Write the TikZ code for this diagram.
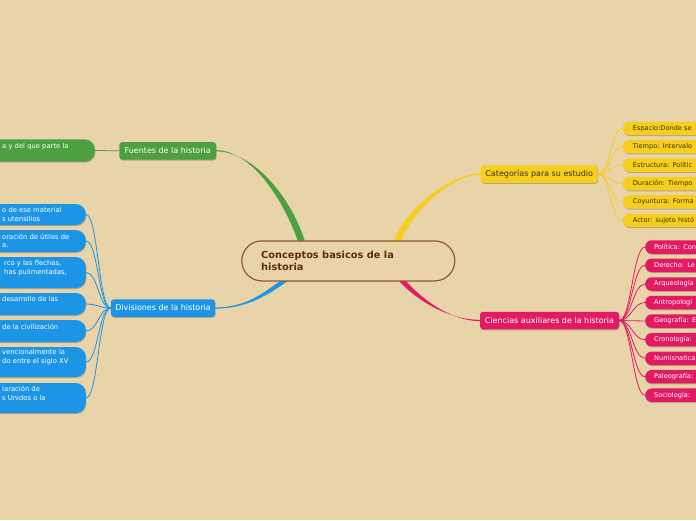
\documentclass[tikz,border=0pt]{standalone}
\usepackage{fontspec}
\setmainfont{DejaVu Sans}
\usetikzlibrary{shadows,calc}
\definecolor{bgc}{HTML}{E9D4A9}
\definecolor{cgreen}{HTML}{4CA03F}
\definecolor{cblue}{HTML}{1D95E6}
\definecolor{cyellow}{HTML}{F6CF1E}
\definecolor{cpink}{HTML}{E21A63}
\definecolor{cbrown}{HTML}{8A5C30}
\definecolor{ctitle}{HTML}{5A2D0C}
\definecolor{cdark}{HTML}{3F3210}
\pgfdeclarelayer{back}
\pgfdeclarelayer{conn}
\pgfsetlayers{back,conn,main}
\begin{document}
\begin{tikzpicture}[x=1pt,y=-1pt,
  shad/.style={drop shadow={shadow xshift=0.5pt,shadow yshift=-1pt,opacity=0.22,fill=black}},
  branch/.style={shad,rounded corners=3pt,inner xsep=4pt,inner ysep=0pt,minimum height=17.5pt,font=\fontsize{8}{9.5}\selectfont},
  rleaf/.style={shad,rounded corners=6.5pt,anchor=west,minimum height=13.5pt,inner ysep=0pt,text width=90pt,align=left,font=\fontsize{6.6}{8}\selectfont},
  yleaf/.style={rleaf,fill=cyellow,text=cdark,inner xsep=10pt},
  pleaf/.style={rleaf,fill=cpink,text=white,inner xsep=9pt},
  lbox/.style={shad,rounded corners=10pt,anchor=east,minimum width=120pt,inner sep=0pt},
  ltext/.style={anchor=north west,inner sep=0pt,align=left,text=white,font=\fontsize{6.8}{8.8}\selectfont},
  thinc/.style={line width=0.8pt}
]
\useasboundingbox (0,0) rectangle (696,520);
\begin{pgfonlayer}{back}
\fill[bgc] (0,0) rectangle (696,520);
\end{pgfonlayer}

% central node
\node[draw=cbrown,line width=1.2pt,fill=bgc,rounded corners=20pt,minimum width=213pt,minimum height=40pt,inner sep=0pt] (c) at (348.3,260.9) {};
\node[anchor=west,text=ctitle,font=\bfseries\fontsize{9.8}{11.5}\selectfont,align=left,inner sep=0pt] (ct) at (261,261) {Conceptos basicos de la\\historia};

% main branches
\node[branch,fill=cgreen,text=white,minimum width=96.7pt] (fu) at (167.7,150.8) {Fuentes de la historia};
\node[branch,fill=cblue,text=white,minimum width=104.3pt] (div) at (163,308) {Divisiones de la historia};
\node[branch,fill=cyellow,text=cdark,minimum width=117pt] (cat) at (539.2,174) {Categorías para su estudio};
\node[branch,fill=cpink,text=white,minimum width=139pt] (cien) at (549.5,320.5) {Ciencias auxiliares de la historia};

% green leaf
\node[lbox,fill=cgreen,minimum height=22.4pt] (g1) at (95,150.5) {};
\node[ltext] (g1t) at (2,143.5) {a y del que parte la};

% blue leaves
\node[lbox,fill=cblue,minimum height=21pt] (d1) at (86,214.5) {};
\node[ltext] (d1t) at (2,207.5) {o de ese material\\s utensilios};
\node[lbox,fill=cblue,minimum height=22pt] (d2) at (86,241) {};
\node[ltext] (d2t) at (2,233.5) {oración de útiles de\\a.};
\node[lbox,fill=cblue,minimum height=31pt] (d3) at (86,272.5) {};
\node[ltext] (d3t) at (4,260.5) {rco y las flechas,\\has pulimentadas,};
\node[lbox,fill=cblue,minimum height=22pt] (d4) at (86,304) {};
\node[ltext] (d4t) at (2,296) {desarrollo de las};
\node[lbox,fill=cblue,minimum height=22pt] (d5) at (86,331) {};
\node[ltext] (d5t) at (2,323.5) {de la civilización};
\node[lbox,fill=cblue,minimum height=30pt] (d6) at (86,362) {};
\node[ltext] (d6t) at (2,349.5) {vencionalmente la\\do entre el siglo XV};
\node[lbox,fill=cblue,minimum height=30pt] (d7) at (86,398) {};
\node[ltext] (d7t) at (2,386) {laración de\\s Unidos o la};

% yellow leaves
\node[yleaf] (y1) at (622.7,128.3) {Espacio:Donde se};
\node[yleaf] (y2) at (622.7,146.7) {Tiempo: Intervalo};
\node[yleaf] (y3) at (622.7,165.1) {Estructura: Polític};
\node[yleaf] (y4) at (622.7,183.5) {Duración: Tiempo};
\node[yleaf] (y5) at (622.7,201.9) {Coyuntura: Forma};
\node[yleaf] (y6) at (622.7,220.4) {Actor: sujeto histó};

% pink leaves
\node[pleaf] (p1) at (645,247) {Política: Con};
\node[pleaf] (p2) at (645,265.3) {Derecho: Le};
\node[pleaf] (p3) at (645,284) {Arqueología};
\node[pleaf] (p4) at (645,302.5) {Antropologí};
\node[pleaf] (p5) at (645,321) {Geografía: E};
\node[pleaf] (p6) at (645,339.7) {Cronología:};
\node[pleaf] (p7) at (645,358.3) {Numisnatica};
\node[pleaf] (p8) at (645,376.7) {Paleografía:};
\node[pleaf] (p9) at (645,395.2) {Sociología:};

\begin{pgfonlayer}{conn}
% tapered main connectors
\fill[cgreen] ($(fu.east)+(0,-0.6)$) .. controls +(34,0) and +(-16,-48) .. ($(c.north)+(-49,5)$)
  -- ($(c.north)+(-42,5)$) .. controls +(-15,-50) and +(36,0) .. ($(fu.east)+(0,0.6)$) -- cycle;
\fill[cblue] ($(div.east)+(0,-0.6)$) .. controls +(35,0) and +(-22,14) .. ($(c.south)+(-60,-6)$)
  -- ($(c.south)+(-53,-6)$) .. controls +(-21,15) and +(36,0) .. ($(div.east)+(0,0.6)$) -- cycle;
\fill[cyellow] ($(cat.west)+(0,-0.6)$) .. controls +(-30,0) and +(10,-35) .. ($(c.north)+(44,5)$)
  -- ($(c.north)+(51,5)$) .. controls +(11,-34) and +(-28,0) .. ($(cat.west)+(0,0.6)$) -- cycle;
\fill[cpink] ($(cien.west)+(0,-0.6)$) .. controls +(-30,0) and +(20,25) .. ($(c.south)+(46,-6)$)
  -- ($(c.south)+(53,-6)$) .. controls +(19,24) and +(-28,0) .. ($(cien.west)+(0,0.6)$) -- cycle;
% leaf connectors
\draw[cgreen,thinc] (g1.east) -- (fu.west);
\foreach \n in {d1,d2,d3,d4,d5,d6,d7}
  \draw[cblue,thinc] (\n.east) .. controls +(12,0) and +(-12,0) .. (div.west);
\foreach \n in {y1,y2,y3,y4,y5,y6}
  \draw[cyellow,thinc] (cat.east) .. controls +(12,0) and +(-12,0) .. (\n.west);
\foreach \n in {p1,p2,p3,p4,p5,p6,p7,p8,p9}
  \draw[cpink,thinc] (cien.east) .. controls +(12,0) and +(-12,0) .. (\n.west);
\end{pgfonlayer}
\end{tikzpicture}
\end{document}
